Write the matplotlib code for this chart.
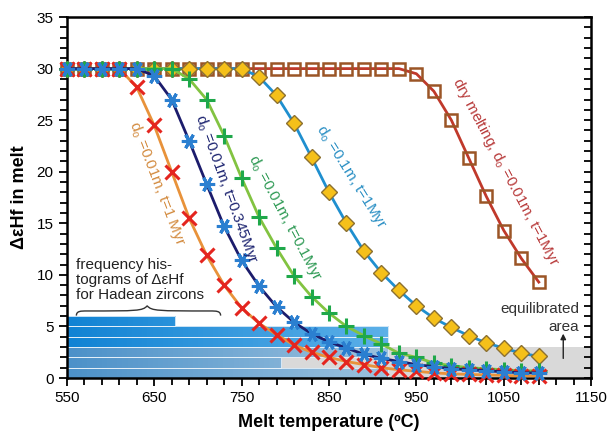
import numpy as np
import matplotlib

matplotlib.use("Agg")
import matplotlib.pyplot as plt
from matplotlib.path import Path
from matplotlib.patches import PathPatch

plt.rcParams["font.family"] = ["Liberation Sans", "DejaVu Sans"]

# melt temperature grid of the model points (degC)
temps = np.arange(550, 1091, 20)

# delta eps Hf in melt for each model run
dry_melt = [30] * 20 + [29.5, 27.8, 25.0, 21.3, 17.6, 14.3, 11.6, 9.3]
d01_t1 = [30] * 11 + [29.2, 27.4, 24.7, 21.4, 18.0, 15.0, 12.3, 10.2, 8.5, 7.0,
                      5.8, 4.9, 4.1, 3.4, 2.9, 2.4, 2.1]
d001_t01 = [30] * 7 + [29.0, 27.0, 23.5, 19.4, 15.6, 12.6, 9.9, 7.9, 6.3, 5.0, 4.1,
                       3.3, 2.4, 2.0, 1.45, 1.2, 1.0, 0.9, 0.8, 0.7, 0.7]
d001_t0345 = [30] * 5 + [29.3, 27.0, 23.0, 18.8, 14.7, 11.4, 8.9, 6.9, 5.4, 4.3, 3.5,
                         2.9, 2.3, 1.9, 1.6, 1.3, 1.1, 0.9, 0.8, 0.7, 0.6, 0.5, 0.5]
d001_t1 = [30] * 4 + [28.2, 24.5, 20.0, 15.5, 11.9, 9.0, 6.8, 5.3, 4.2, 3.2, 2.5,
                      2.0, 1.6, 1.3, 1.0, 0.8, 0.65, 0.5, 0.4, 0.35, 0.3, 0.25, 0.2, 0.2]

# Hadean zircon histogram (1 epsilon unit bins), bar lengths read as x extent
hist_bottom = [0, 1, 2, 3, 4, 5]
hist_right = [918, 795, 918, 918, 918, 674]
equil_top = 3

fig = plt.figure(figsize=(6.07, 4.37), dpi=100)
ax = fig.add_axes([0.110, 0.135, 0.864, 0.826])

# equilibrated area
ax.axhspan(0, equil_top, color="#d9d9d9", lw=0, zorder=0)

# histogram bars with a left-to-right fade
for b, r in zip(hist_bottom, hist_right):
    if b >= 3:
        c0, c1 = "#1183d4", "#5cb0e8"
    else:
        c0, c1 = "#4c91c9", "#9cc2de"
    bar = ax.barh(b + 0.5, r - 550, left=550, height=1.0, color=c0,
                  edgecolor="#e8f2fa", linewidth=0.6, zorder=1)[0]
    cmap = matplotlib.colors.LinearSegmentedColormap.from_list("g", [c0, c1])
    im = ax.imshow(np.linspace(0, 1, 64).reshape(1, -1), cmap=cmap, aspect="auto",
                   extent=[550, 918, b, b + 1], zorder=1)
    im.set_clip_path(bar)
    bar.set_facecolor("none")
    bar.set_zorder(1.5)

ax.set_xlim(550, 1150)
ax.set_ylim(0, 35)

kw = dict(clip_on=False, zorder=3)
ax.plot(temps, dry_melt, color="#c0392b", lw=2, marker="s", ms=9, mfc="none",
        mec="#9b5526", mew=1.8, **kw)
ax.plot(temps, d01_t1, color="#1f8fcf", lw=2, marker="D", ms=8, mfc="#f5c01a",
        mec="#8c7030", mew=1.0, **kw)
ax.plot(temps, d001_t01, color="#82c341", lw=2, marker="+", ms=11, mec="#1fa84a",
        mew=2.2, **kw)
ax.plot(temps, d001_t1, color="#e8923a", lw=2, marker="x", ms=10, mec="#e4251f",
        mew=2.2, **kw)
ax.plot(temps, d001_t0345, color="#1c1c6c", lw=2, marker=(6, 2, 90), ms=11,
        mec="#2b7fd0", mew=2.2, **kw)

# curve labels
do = r"d$_\mathregular{o}$"
tk = dict(fontsize=11, ha="center", va="center", rotation_mode="anchor")
ax.text(653, 18.9, do + " =0.01m, t=1 Myr", color="#d38b3f", rotation=-69, **tk)
ax.text(733, 18.3, do + " =0.01m, t=0.345Myr", color="#1d2470", rotation=-70, **tk)
ax.text(800, 15.5, do + " =0.01m, t=0.1Myr", color="#2f9a55", rotation=-62, **tk)
ax.text(875, 19.5, do + " =0.1m, t=1Myr", color="#2a8fc4", rotation=-58, **tk)
ax.text(1052, 20.0, "dry melting, " + do + " =0.01m, t=1Myr", color="#b83b3b",
        rotation=-62, **tk)

ax.text(561, 9.5, "frequency his-\ntograms of \u0394\u03b5Hf\nfor Hadean zircons",
        fontsize=11, color="#222222", ha="left", va="center", linespacing=1.05)

# curly brace above the histogram
x0, xm, x1 = 561, 642, 726
yb, yf, yp = 6.05, 6.5, 7.0
verts = [(x0, yb), (x0, yf), (x0 + 5, yf), (x0 + 12, yf),
         (xm - 12, yf), (xm - 5, yf), (xm, yp),
         (xm + 5, yf), (xm + 12, yf), (x1 - 12, yf),
         (x1 - 5, yf), (x1, yf), (x1, yb)]
codes = [Path.MOVETO, Path.CURVE4, Path.CURVE4, Path.LINETO,
         Path.CURVE4, Path.CURVE4, Path.CURVE4,
         Path.CURVE4, Path.CURVE4, Path.LINETO,
         Path.CURVE4, Path.CURVE4, Path.CURVE4]
ax.add_patch(PathPatch(Path(verts, codes), fc="none", ec="#333333", lw=1.0, zorder=2))

ax.text(1136, 6.7, "equilibrated", fontsize=11, color="#333333", ha="right", va="center")
ax.text(1136, 4.9, "area", fontsize=11, color="#333333", ha="right", va="center")
ax.annotate("", xy=(1118, 4.3), xytext=(1118, 1.9),
            arrowprops=dict(arrowstyle="-|>", color="#222222", lw=1.0,
                            mutation_scale=8, shrinkA=0, shrinkB=0))

# axes styling
ax.set_xticks(np.arange(550, 1151, 100))
ax.set_xticks(np.arange(550, 1151, 20), minor=True)
ax.set_yticks(np.arange(0, 36, 5))
ax.set_yticks(np.arange(0, 36, 1), minor=True)
ax.tick_params(axis="both", which="both", direction="out", width=1.3, labelsize=11,
               colors="black")
ax.tick_params(axis="both", which="major", length=6)
ax.tick_params(axis="both", which="minor", length=5)
for s in ax.spines.values():
    s.set_linewidth(1.8)

# inward ticks on the right frame
ax_r = ax.twinx()
ax_r.set_ylim(0, 35)
ax_r.set_yticks(np.arange(0, 36, 1))
ax_r.tick_params(axis="y", direction="in", length=5, width=1.3, labelright=False)
for s in ax_r.spines.values():
    s.set_visible(False)

ax.set_xlabel("Melt temperature (\u00baC)", fontsize=13, fontweight="bold", labelpad=6)
ax.set_ylabel("\u0394\u03b5Hf in melt", fontsize=13, fontweight="bold", labelpad=6)

fig.savefig("out.png", dpi=100)
